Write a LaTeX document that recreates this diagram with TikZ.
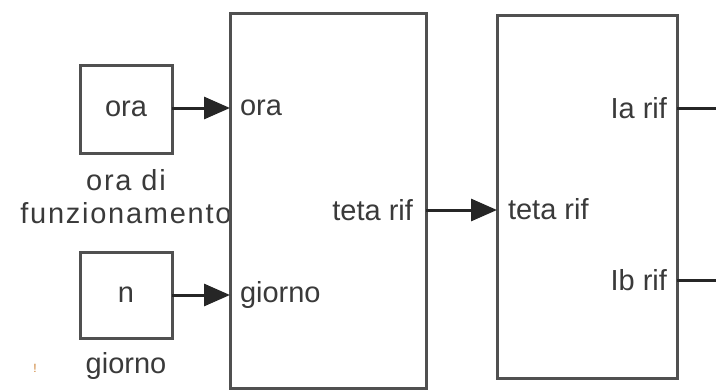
\documentclass[tikz,border=0pt]{standalone}
\usepackage{fontspec}
\setmainfont{Liberation Sans}
\usepackage{tikz}
\usetikzlibrary{positioning, arrows.meta}
\definecolor{textgray}{RGB}{58, 58, 58}
\definecolor{edgegray}{RGB}{80, 80, 80}

\begin{document}
\begin{tikzpicture}[x=1pt, y=-1pt,
    every node/.style={font=\fontsize{29}{33}\selectfont, text=textgray, inner sep=0pt, outer sep=0pt},
    srcbox/.style={rectangle, draw=edgegray, line width=3pt, fill=white, minimum width=92pt, minimum height=88pt},
    blockbox/.style={rectangle, draw=edgegray, line width=3pt, fill=white},
    wire/.style={line width=3pt, draw=black!85},
    sig/.style={wire, -{Triangle[length=26pt, width=22pt]}}]
    \useasboundingbox (0,0) rectangle (716,391);

    % Sources
    \node[srcbox] (ora) at (126,109) {ora};
    \node[align=center, font=\fontsize{29}{33}\selectfont\addfontfeature{LetterSpace=6}] (oraLbl) at (126,197) {ora di\\funzionamento};
    \node[srcbox, minimum height=86pt] (giorno) at (126,295) {n};
    \node (giornoLbl) at (126,366) {giorno};
    \node[font=\fontsize{12}{12}\selectfont, text=orange!60!gray] (warn) at (35,368) {!};

    % Subsystem blocks
    \node[blockbox, minimum width=196pt, minimum height=375pt] (blkA) at (328,200.5) {};
    \node[blockbox, minimum width=180pt, minimum height=363pt] (blkB) at (587,196.5) {};

    % Port labels
    \node[anchor=west] (pOra) at (240,108) {ora};
    \node[anchor=west] (pGiorno) at (240,295) {giorno};
    \node[anchor=east] (pTetaOut) at (413,210) {teta rif};
    \node[anchor=west] (pTetaIn) at (508,209) {teta rif};
    \node[anchor=east] (pIa) at (667,108) {Ia rif};
    \node[anchor=east] (pIb) at (667,280) {Ib rif};

    % Outputs
    \coordinate (outA) at (716,108);
    \coordinate (outB) at (716,280);

    % Signals
    \draw[sig] (ora.east |- pOra) -- (blkA.west |- pOra);
    \draw[sig] (giorno.east |- pGiorno) -- (blkA.west |- pGiorno);
    \draw[sig] (blkA.east |- pTetaOut) -- (blkB.west |- pTetaOut);
    \draw[wire] (blkB.east |- outA) -- (outA);
    \draw[wire] (blkB.east |- outB) -- (outB);
\end{tikzpicture}
\end{document}
